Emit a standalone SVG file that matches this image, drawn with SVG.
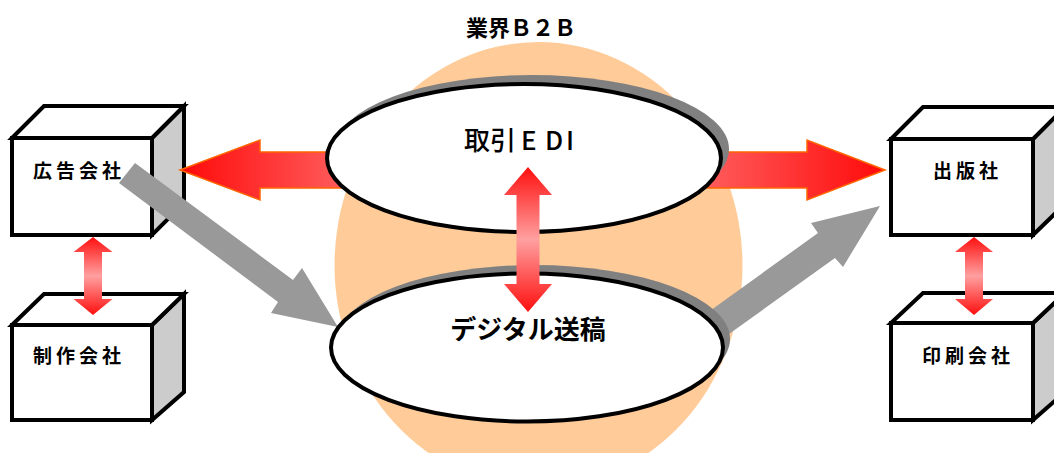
<svg xmlns="http://www.w3.org/2000/svg" width="1054" height="453" viewBox="0 0 1054 453">
<style>
.front{fill:#fff;stroke:#000;stroke-width:4}
.top{fill:#fff;stroke:#000;stroke-width:4;stroke-linejoin:miter}
.side{fill:#ccc;stroke:#000;stroke-width:4;stroke-linejoin:miter}
.lbl{font-family:"Noto Sans CJK JP","Noto Sans CJK SC",sans-serif;font-weight:bold;fill:#000}
.med{font-weight:500}
.box{font-size:19px;letter-spacing:4px}
.shadow{fill:#808080}
.oval{fill:#fff;stroke:#000;stroke-width:4}
.gray{fill:#999}
.harrow{stroke:#ff6600;stroke-width:1.5;stroke-linejoin:miter}
</style>
<defs>
<linearGradient id="gL" x1="0" y1="0" x2="1" y2="0"><stop offset="0" stop-color="#ff0a0a"/><stop offset="1" stop-color="#ff5c5c"/></linearGradient>
<linearGradient id="gR" x1="0" y1="0" x2="1" y2="0"><stop offset="0" stop-color="#ff5c5c"/><stop offset="1" stop-color="#ff0a0a"/></linearGradient>
<linearGradient id="gV" x1="0" y1="0" x2="0" y2="1"><stop offset="0" stop-color="#ff0f0f"/><stop offset="0.5" stop-color="#ffa0a0"/><stop offset="1" stop-color="#ff0f0f"/></linearGradient>
</defs>

<ellipse id="industry-b2b-bg" cx="538.5" cy="265" rx="204" ry="223" fill="#ffcc99"/>
<text class="lbl" x="521" y="36" font-size="22" text-anchor="middle">業界Ｂ２Ｂ</text>

<g id="node-koukoku">
<polygon class="side" points="152,138 184,106 184,203 152,235"/>
<polygon class="top" points="12,138 44,106 184,106 152,138"/>
<rect class="front" x="12" y="138" width="140" height="97"/>
<text class="lbl box" x="33" y="178">広告会社</text>
</g>
<g id="node-seisaku">
<polygon class="side" points="152,325 184,294 184,392 152,420"/>
<polygon class="top" points="12,325 44,294 184,294 152,325"/>
<rect class="front" x="12" y="325" width="140" height="95"/>
<text class="lbl box" x="33" y="363">制作会社</text>
</g>
<g id="node-shuppan">
<polygon class="side" points="1033,139 1065,107 1065,204 1033,235"/>
<polygon class="top" points="891,139 923,107 1065,107 1033,139"/>
<rect class="front" x="891" y="139" width="142" height="96"/>
<text class="lbl box" x="933" y="178">出版社</text>
</g>
<g id="node-insatsu">
<polygon class="side" points="1033,323 1065,293 1065,392 1033,420"/>
<polygon class="top" points="891,323 923,293 1065,293 1033,323"/>
<rect class="front" x="891" y="323" width="142" height="97"/>
<text class="lbl box" x="922" y="363">印刷会社</text>
</g>

<g id="connectors">
<polygon class="harrow" fill="url(#gL)" points="180,170 260,140 260,152 345,152 345,188 260,188 260,200"/>
<polygon class="harrow" fill="url(#gR)" points="885,170 807,140 807,152 705,152 705,188 807,188 807,200"/>
<polygon class="gray" points="135,163 293,280 302,268 338,327 271,313 278,302 119,183"/>
<polygon class="gray" points="700,318 818,233 811,223 880,206 843,267 835,258 715,344"/>
</g>

<g id="node-edi">
<ellipse class="shadow" cx="532" cy="149" rx="197" ry="74"/>
<ellipse class="oval" cx="524" cy="158" rx="197" ry="74"/>
<text class="lbl med" y="150" font-size="26"><tspan x="464">取引</tspan><tspan x="521">E</tspan><tspan x="545">D</tspan><tspan x="566">I</tspan></text>
</g>
<g id="node-digital">
<ellipse class="shadow" cx="534" cy="339" rx="196" ry="74"/>
<ellipse class="oval" cx="527" cy="347.5" rx="196" ry="74"/>
<text class="lbl" x="528" y="339" font-size="26" text-anchor="middle">デジタル送稿</text>
</g>

<g id="connectors-double">
<polygon fill="url(#gV)" points="528,167 552,195 539.5,195 539.5,284 552,284 528,312 504,284 516.5,284 516.5,195 504,195"/>
<polygon fill="url(#gV)" points="93,237 112.5,252 102,252 102,299 112.5,299 93,315 73.5,299 84,299 84,252 73.5,252"/>
<polygon fill="url(#gV)" points="974,237 993,252 983,252 983,299 993,299 974,315 955,299 965,299 965,252 955,252"/>
</g>
</svg>
